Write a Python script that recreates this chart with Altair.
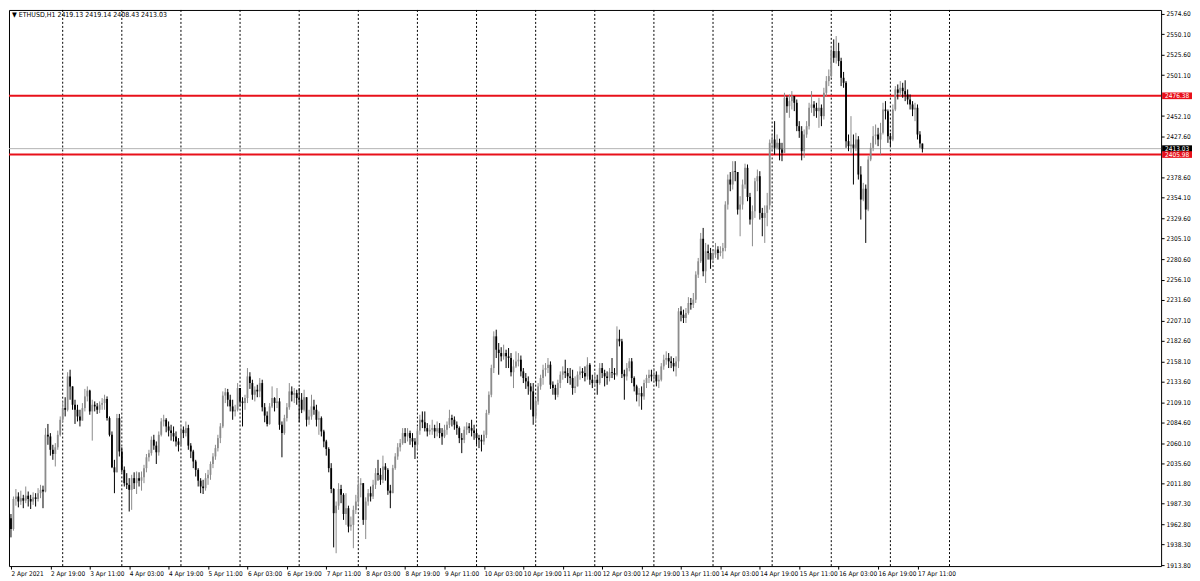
import altair as alt
import pandas as pd

# ---------------- data (hourly ETHUSD candles) ----------------
first_open = 1970.0

c_0402 = [1957,1993,1996,1990,1994,1991,1997,1993,1990,1995,1993,2000,2004,2002,2070,2068,2052,2047,2055,2070,2088]
h_0402 = [1975,1996,2005,2001,2003,1998,2008,2002,1998,2001,2000,2006,2010,2009,2078,2083,2072,2058,2060,2075,2092]
l_0402 = [1947,1955,1985,1983,1986,1982,1988,1984,1981,1986,1984,1990,1994,1982,2001,2058,2045,2040,2032,2052,2068]

c_0403 = [2102,2100,2140,2128,2106,2100,2092,2087,2102,2116,2123,2098,2106,2104,2100,2106,2108,2113,2090,2070,2031,2025,2090,2050]
h_0403 = [2110,2115,2145,2148,2128,2112,2106,2100,2108,2125,2128,2124,2112,2110,2108,2110,2114,2118,2116,2092,2074,2040,2095,2095]
l_0403 = [2085,2092,2098,2112,2100,2083,2086,2080,2088,2098,2110,2094,2063,2098,2095,2096,2100,2100,2087,2068,2030,2000,2025,2044]

c_0404 = [2028,2012,2010,2004,2018,2012,2018,2015,2019,2030,2043,2048,2064,2057,2049,2070,2086,2088,2080,2075,2072,2068,2062,2058]
h_0404 = [2055,2032,2024,2018,2022,2025,2026,2025,2026,2034,2047,2052,2068,2070,2062,2074,2090,2094,2090,2086,2082,2080,2074,2066]
l_0404 = [2025,2008,2005,1978,1980,2005,1999,2008,2003,2012,2025,2038,2045,2052,2035,2045,2068,2080,2073,2068,2063,2062,2056,2050]

c_0405 = [2076,2072,2078,2057,2050,2038,2028,2015,2008,2006,2018,2022,2035,2044,2054,2066,2080,2117,2121,2112,2104,2098,2100,2126]
h_0405 = [2082,2080,2086,2082,2060,2052,2040,2030,2018,2016,2024,2028,2038,2048,2058,2070,2084,2122,2126,2125,2118,2112,2106,2132]
l_0405 = [2055,2066,2068,2052,2042,2030,2020,2008,2000,1999,2003,2010,2016,2030,2040,2050,2060,2078,2108,2104,2098,2088,2092,2098]

c_0406 = [2110,2108,2114,2140,2132,2118,2124,2122,2132,2103,2093,2083,2104,2114,2108,2110,2082,2072,2090,2103,2122,2118,2120,2114]
h_0406 = [2126,2115,2118,2150,2145,2136,2128,2130,2138,2136,2108,2098,2108,2128,2115,2126,2114,2086,2094,2108,2132,2128,2126,2124]
l_0406 = [2104,2080,2100,2108,2125,2112,2110,2115,2115,2098,2085,2080,2082,2102,2098,2102,2076,2043,2070,2086,2100,2110,2108,2106]

c_0407 = [2112,2100,2115,2088,2092,2104,2100,2088,2090,2074,2062,2053,2030,2005,1976,1985,2005,1998,1975,1982,1960,1962,1980,1990]
h_0407 = [2126,2120,2124,2112,2100,2118,2112,2106,2098,2092,2076,2064,2055,2036,2006,1990,2012,2010,2000,2000,1985,1972,1985,1998]
l_0407 = [2085,2096,2098,2080,2082,2088,2094,2080,2070,2068,2055,2045,2025,2000,1935,1928,1980,1988,1968,1962,1953,1955,1934,1975]

c_0408 = [2010,2012,1968,1990,2000,1996,2010,2024,2022,2016,2032,2028,2003,2000,2030,2044,2055,2060,2072,2068,2072,2066,2062,2058]
h_0408 = [2020,2018,2008,1995,2005,2008,2016,2030,2040,2030,2045,2036,2030,2010,2034,2048,2060,2065,2078,2078,2078,2075,2072,2066]
l_0408 = [1985,1995,1962,1945,1985,1990,1993,2005,2015,2010,2012,2015,1998,1982,2000,2028,2040,2050,2058,2060,2062,2058,2055,2041]

c_0409 = [2075,2088,2085,2078,2074,2076,2078,2074,2078,2072,2068,2076,2082,2090,2088,2082,2078,2066,2064,2076,2080,2078,2075,2072]
h_0409 = [2080,2094,2098,2098,2084,2082,2088,2082,2086,2084,2078,2082,2086,2100,2094,2092,2086,2080,2072,2080,2085,2084,2088,2082]
l_0409 = [2052,2070,2078,2074,2068,2070,2070,2066,2068,2066,2058,2066,2070,2078,2080,2076,2070,2060,2048,2060,2070,2072,2068,2064]

c_0410 = [2066,2064,2062,2070,2096,2118,2150,2188,2172,2168,2164,2168,2164,2162,2145,2152,2158,2160,2146,2138,2134,2128,2122,2092]
h_0410 = [2076,2070,2070,2075,2100,2122,2154,2194,2196,2180,2175,2178,2172,2174,2168,2160,2170,2168,2165,2150,2144,2140,2132,2132]
l_0410 = [2058,2054,2050,2058,2066,2094,2115,2144,2162,2142,2158,2160,2150,2150,2140,2126,2150,2152,2140,2132,2125,2118,2100,2082]

c_0411 = [2110,2128,2138,2148,2150,2154,2130,2126,2118,2132,2142,2146,2144,2140,2138,2126,2128,2142,2146,2144,2140,2154,2136,2132]
h_0411 = [2114,2132,2142,2154,2156,2162,2158,2134,2130,2136,2146,2152,2160,2150,2150,2148,2140,2146,2152,2150,2152,2163,2156,2142]
l_0411 = [2085,2106,2124,2130,2140,2144,2125,2118,2112,2115,2126,2136,2138,2132,2130,2118,2120,2128,2136,2138,2134,2136,2130,2126]

c_0412 = [2136,2132,2150,2144,2140,2138,2145,2144,2142,2185,2182,2143,2140,2150,2158,2138,2128,2118,2120,2116,2132,2138,2142,2140]
h_0412 = [2145,2142,2156,2156,2148,2146,2150,2162,2150,2200,2196,2185,2148,2156,2162,2162,2140,2130,2126,2128,2136,2142,2148,2148]
l_0412 = [2128,2118,2130,2138,2128,2130,2134,2138,2136,2140,2176,2138,2112,2135,2146,2132,2122,2110,2104,2100,2112,2126,2132,2134]

c_0413 = [2142,2134,2136,2152,2160,2162,2158,2156,2152,2158,2218,2214,2210,2216,2228,2226,2232,2262,2278,2305,2266,2290,2288,2280]
h_0413 = [2150,2146,2142,2156,2166,2170,2168,2164,2162,2164,2222,2224,2220,2222,2235,2234,2240,2266,2282,2312,2318,2300,2298,2294]
l_0413 = [2134,2128,2126,2134,2148,2154,2150,2150,2146,2140,2150,2206,2204,2204,2214,2220,2222,2228,2258,2276,2260,2252,2280,2269]

c_0414 = [2286,2292,2288,2290,2294,2346,2376,2370,2386,2385,2340,2346,2370,2390,2355,2328,2338,2374,2380,2336,2330,2336,2345,2420]
h_0414 = [2292,2300,2296,2296,2300,2350,2382,2385,2398,2398,2380,2356,2376,2395,2394,2360,2345,2378,2388,2386,2342,2345,2360,2424]
l_0414 = [2276,2282,2280,2284,2281,2290,2340,2362,2364,2374,2334,2308,2340,2365,2350,2322,2296,2330,2362,2328,2308,2300,2320,2340]

c_0415 = [2424,2414,2420,2412,2408,2474,2464,2470,2476,2468,2440,2434,2410,2430,2440,2462,2466,2462,2458,2462,2452,2480,2494,2500]
h_0415 = [2430,2446,2430,2425,2420,2480,2476,2478,2482,2476,2472,2446,2440,2436,2446,2468,2482,2470,2468,2474,2466,2486,2500,2508]
l_0415 = [2410,2406,2412,2399,2398,2408,2456,2450,2460,2458,2434,2426,2399,2402,2426,2436,2456,2452,2450,2438,2440,2448,2476,2488]

c_0416 = [2530,2522,2530,2518,2498,2492,2422,2416,2418,2414,2424,2382,2352,2365,2340,2400,2414,2428,2430,2424,2432,2460,2458,2428]
h_0416 = [2536,2544,2548,2540,2522,2505,2494,2430,2452,2430,2432,2428,2392,2372,2370,2404,2420,2440,2442,2438,2444,2468,2470,2460]
l_0416 = [2498,2516,2515,2512,2488,2486,2414,2410,2408,2370,2410,2376,2328,2350,2300,2338,2398,2410,2418,2416,2406,2430,2448,2420]

c_0417 = [2424,2460,2484,2480,2486,2482,2478,2472,2466,2460,2462,2430,2419.13,2413.03]
h_0417 = [2432,2466,2488,2490,2494,2492,2495,2484,2478,2470,2468,2466,2434,2419.14]
l_0417 = [2416,2422,2458,2472,2476,2474,2470,2466,2460,2452,2446,2424,2414,2408.43]

x_labels = ["2 Apr 2021", "2 Apr 19:00", "3 Apr 11:00", "4 Apr 03:00", "4 Apr 19:00", "5 Apr 11:00",
            "6 Apr 03:00", "6 Apr 19:00", "7 Apr 11:00", "8 Apr 03:00", "8 Apr 19:00", "9 Apr 11:00",
            "10 Apr 03:00", "10 Apr 19:00", "11 Apr 11:00", "12 Apr 03:00", "12 Apr 19:00", "13 Apr 11:00",
            "14 Apr 03:00", "14 Apr 19:00", "15 Apr 11:00", "16 Apr 03:00", "16 Apr 19:00", "17 Apr 11:00"]

price_ticks = [2574.60, 2550.10, 2525.60, 2501.10, 2452.10, 2427.60, 2378.60, 2354.10, 2329.60,
               2305.10, 2280.60, 2256.10, 2231.60, 2207.10, 2182.60, 2158.10, 2133.60, 2109.10,
               2084.60, 2060.10, 2035.60, 2011.80, 1987.30, 1962.80, 1938.30, 1913.80]

level_prices = [2476.38, 2405.98]
bid_price = 2413.03
header = "\u25BC ETHUSD,H1  2419.13 2419.14 2408.43 2413.03"

# ---------------- build table ----------------
closes = c_0402 + c_0403 + c_0404 + c_0405 + c_0406 + c_0407 + c_0408 + c_0409 + c_0410 + c_0411 + c_0412 + c_0413 + c_0414 + c_0415 + c_0416 + c_0417
highs = h_0402 + h_0403 + h_0404 + h_0405 + h_0406 + h_0407 + h_0408 + h_0409 + h_0410 + h_0411 + h_0412 + h_0413 + h_0414 + h_0415 + h_0416 + h_0417
lows = l_0402 + l_0403 + l_0404 + l_0405 + l_0406 + l_0407 + l_0408 + l_0409 + l_0410 + l_0411 + l_0412 + l_0413 + l_0414 + l_0415 + l_0416 + l_0417
opens = [first_open] + closes[:-1]

df = pd.DataFrame({"i": list(range(len(closes))), "open": opens, "close": closes, "high": highs, "low": lows})
df["high"] = df[["high", "open", "close"]].max(axis=1)
df["low"] = df[["low", "open", "close"]].min(axis=1)
df["dir"] = ["up" if c >= o else "down" for o, c in zip(opens, closes)]

W, H = 1156, 558
FONT = "Liberation Sans Narrow, DejaVu Sans Condensed, Liberation Sans"
FS = 6.5
xscale = alt.Scale(domain=[-0.8, 466.9], nice=False, zero=False)
yscale = alt.Scale(domain=[1912.6, 2579.3], nice=False, zero=False)
color = alt.Color("dir:N", scale=alt.Scale(domain=["up", "down"], range=["#8c8c8c", "#000000"]), legend=None)

tick_idx = [16 * k for k in range(len(x_labels))]
label_expr = "[" + ",".join("'" + t + "'" for t in x_labels) + "][round(datum.value/16)]"

x_axis = alt.Axis(values=tick_idx, labelExpr=label_expr, orient="bottom", grid=False, domain=False,
                  tickSize=3, tickColor="#000", labelAlign="left", labelFontSize=FS, labelFont=FONT,
                  labelColor="#000", labelPadding=1, title=None, labelOverlap=False, labelFlush=False)
y_axis = alt.Axis(values=price_ticks, format=".2f", orient="right", grid=False, domain=False,
                  tickSize=3, tickColor="#000", labelFontSize=FS, labelFont=FONT, labelColor="#000",
                  labelPadding=2, title=None, labelOverlap=False, labelFlush=False)

grid_df = pd.DataFrame({"g": [21 + 24 * k for k in range(16)]})
grid = alt.Chart(grid_df).mark_rule(color="#000", strokeDash=[2, 2], strokeWidth=1).encode(
    x=alt.X("g:Q", scale=xscale, axis=x_axis))

bid = alt.Chart(pd.DataFrame({"p": [bid_price]})).mark_rule(color="#b4b4b4", strokeWidth=1).encode(
    y=alt.Y("p:Q", scale=yscale, axis=y_axis))

levels = alt.Chart(pd.DataFrame({"p": level_prices})).mark_rule(color="#e8101a", strokeWidth=2).encode(
    y=alt.Y("p:Q", scale=yscale, axis=y_axis))

wick = alt.Chart(df).mark_rule(strokeWidth=1).encode(
    x=alt.X("i:Q", scale=xscale, axis=x_axis),
    y=alt.Y("low:Q", scale=yscale, axis=y_axis),
    y2="high:Q",
    color=color)

body = alt.Chart(df).mark_rule(strokeWidth=1.8, strokeCap="butt").encode(
    x=alt.X("i:Q", scale=xscale, axis=x_axis),
    y=alt.Y("open:Q", scale=yscale, axis=y_axis),
    y2="close:Q",
    color=color)

box_df = pd.DataFrame({
    "p": [level_prices[0], bid_price, level_prices[1]],
    "txt": ["2476.38", "2413.03", "2405.98"],
    "fill": ["#e8101a", "#000000", "#e8101a"],
})
box_df["top"] = box_df["p"] + 4.0
box_df["bot"] = box_df["p"] - 4.0

boxes = []
for k in range(len(box_df)):
    sub = box_df.iloc[[k]]
    boxes.append(alt.Chart(sub).mark_rect().encode(
        y=alt.Y("top:Q", scale=yscale, axis=y_axis), y2="bot:Q",
        x=alt.value(W + 1), x2=alt.value(W + 31),
        color=alt.Color("fill:N", scale=None)))
    boxes.append(alt.Chart(sub).mark_text(align="left", baseline="middle", fontSize=FS, font=FONT, color="#ffffff").encode(
        y=alt.Y("p:Q", scale=yscale, axis=y_axis), x=alt.value(W + 4), text="txt:N"))

title_txt = alt.Chart(pd.DataFrame({"t": [header]})).mark_text(
    align="left", baseline="middle", fontSize=7, font=FONT, color="#000").encode(
    x=alt.value(3), y=alt.value(5), text="t:N")

chart = alt.layer(grid, bid, levels, wick, body, title_txt, *boxes).properties(
    width=W, height=H, background="#ffffff",
    padding={"left": 0, "top": 0, "right": 0, "bottom": 0}
).configure_view(stroke="#000000", strokeWidth=1)

chart.save("out.html", embed_options={"renderer": "svg", "actions": False})
